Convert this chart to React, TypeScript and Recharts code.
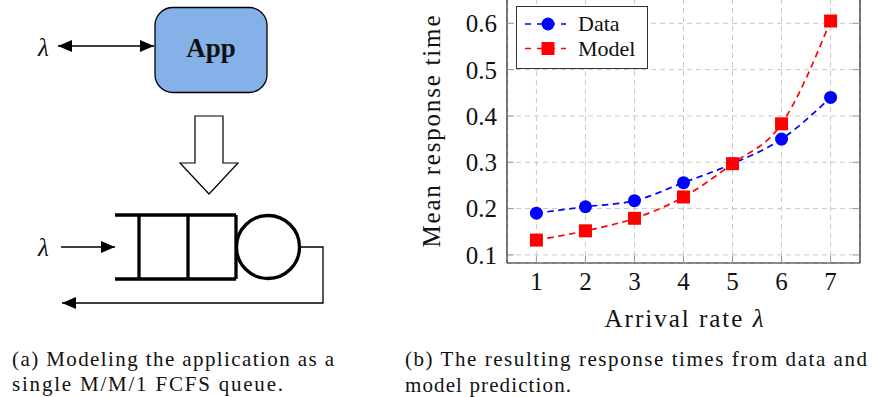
import { LineChart, Line, XAxis, YAxis, CartesianGrid, Legend } from "recharts";

const arrivalRates = [1, 2, 3, 4, 5, 6, 7];
const dataTimes = [0.19, 0.204, 0.217, 0.256, 0.297, 0.35, 0.44];
const modelTimes = [0.132, 0.152, 0.179, 0.225, 0.297, 0.383, 0.605];
const yTicks = [0.1, 0.2, 0.3, 0.4, 0.5, 0.6];

const rows = arrivalRates.map((rate, i) => ({
  rate,
  data: dataTimes[i],
  model: modelTimes[i],
}));

const SERIF = "'Liberation Serif', 'DejaVu Serif', serif";
const BLUE = "#0000ff";
const RED = "#ff0000";

const CircleDot = (props: any) => {
  const { cx, cy } = props;
  if (cx == null || cy == null) return null;
  return <circle cx={cx} cy={cy} r={6.5} fill={BLUE} />;
};

const SquareDot = (props: any) => {
  const { cx, cy } = props;
  if (cx == null || cy == null) return null;
  return <rect x={cx - 6.5} y={cy - 6.5} width={13} height={13} fill={RED} />;
};

const LegendBox = () => {
  const items = [
    { name: "Data", color: BLUE, shape: "circle" },
    { name: "Model", color: RED, shape: "square" },
  ];
  return (
    <svg width={132} height={63} style={{ display: "block" }}>
      <rect x={0.5} y={0.5} width={131} height={62} fill="#fff" stroke="#333" strokeWidth={1} />
      {items.map((it, i) => {
        const y = 18 + i * 24.5;
        return (
          <g key={it.name}>
            <line x1={9} x2={50} y1={y} y2={y} stroke={it.color} strokeWidth={1.7} strokeDasharray="6 6" />
            {it.shape === "circle" ? (
              <circle cx={32} cy={y} r={6.5} fill={it.color} />
            ) : (
              <rect x={25.5} y={y - 6.5} width={13} height={13} fill={it.color} />
            )}
            <text x={62} y={y + 7} fontFamily={SERIF} fontSize={22} fill="#111">
              {it.name}
            </text>
          </g>
        );
      })}
    </svg>
  );
};

const Diagram = () => (
  <svg width={370} height={397} style={{ position: "absolute", left: 0, top: 0 }}>
    <defs>
      <marker id="ah" viewBox="0 0 14 12" refX={14} refY={6} markerWidth={14} markerHeight={12} markerUnits="userSpaceOnUse" orient="auto-start-reverse">
        <path d="M0,0 L14,6 L0,12 Z" fill="#000" />
      </marker>
    </defs>
    {/* top: lambda <-> App */}
    <text x={38} y={56} fontFamily={SERIF} fontStyle="italic" fontSize={25} fill="#111">λ</text>
    <line x1={58} y1={46} x2={154} y2={46} stroke="#000" strokeWidth={1.3} markerStart="url(#ah)" markerEnd="url(#ah)" />
    <rect x={155} y={7.5} width={112} height={85} rx={18} fill="#85b1e9" stroke="#000" strokeWidth={1.3} />
    <text x={211} y={57} textAnchor="middle" fontFamily={SERIF} fontWeight="bold" fontSize={27} fill="#111">App</text>
    {/* hollow arrow */}
    <polygon points="195,116 223,116 223,163 238,163 209,194 180,163 195,163" fill="#fff" stroke="#000" strokeWidth={1.2} />
    {/* queue */}
    <text x={38} y={256} fontFamily={SERIF} fontStyle="italic" fontSize={25} fill="#111">λ</text>
    <line x1={61} y1={247} x2={115} y2={247} stroke="#000" strokeWidth={1.3} markerEnd="url(#ah)" />
    <path d="M115,215 H236 M115,279 H236 M139,215 V279 M188,215 V279 M236,215 V279" stroke="#000" strokeWidth={3.3} fill="none" />
    <circle cx={268} cy={247} r={31.5} fill="none" stroke="#000" strokeWidth={3.3} />
    <polyline points="300,247 323,247 323,303 62,303" fill="none" stroke="#000" strokeWidth={1.3} markerEnd="url(#ah)" />
    {/* caption */}
    <text fontFamily={SERIF} fontSize={21} fill="#111">
      <tspan x={12} y={366} textLength={322} lengthAdjust="spacing">(a) Modeling the application as a</tspan>
      <tspan x={12} y={391} textLength={271} lengthAdjust="spacing">single M/M/1 FCFS queue.</tspan>
    </text>
  </svg>
);

const YTitle = () => (
  <text
    transform="translate(60,132.5) rotate(-90)"
    textAnchor="middle"
    fontFamily={SERIF}
    fontSize={25}
    fill="#111"
    textLength={232}
    lengthAdjust="spacing"
  >
    Mean response time
  </text>
);

const XTitle = () => (
  <text x={304} y={328} textAnchor="middle" fontFamily={SERIF} fontSize={25} fill="#111" textLength={159} lengthAdjust="spacing">
    Arrival rate <tspan fontStyle="italic">λ</tspan>
  </text>
);

export default function App() {
  return (
    <div style={{ position: "absolute", left: 0, top: 0, width: 873, height: 397, background: "#fff", overflow: "hidden" }}>
      <Diagram />
      <div style={{ position: "absolute", left: 380, top: -1 }}>
        <LineChart width={493} height={398} data={rows} margin={{ top: 0, right: 12, bottom: 94, left: 67 }}>
          <CartesianGrid stroke="#c8c8c8" strokeDasharray="5 4" vertical horizontal />
          <XAxis
            dataKey="rate"
            type="number"
            domain={[0.4, 7.6]}
            ticks={arrivalRates}
            height={40}
            axisLine={{ stroke: "#222", strokeWidth: 1.2 }}
            tickLine={{ stroke: "#999" }}
            tickSize={-7}
            tickMargin={16}
            tick={{ fontFamily: SERIF, fontSize: 25, fill: "#111" }}
            label={<XTitle />}
            allowDataOverflow
          />
          <YAxis
            type="number"
            domain={[0.0825, 0.6525]}
            ticks={yTicks}
            width={60}
            axisLine={{ stroke: "#222", strokeWidth: 1.2 }}
            tickLine={{ stroke: "#999" }}
            tickSize={-7}
            tickMargin={17}
            tick={{ fontFamily: SERIF, fontSize: 25, fill: "#111" }}
            label={<YTitle />}
            allowDataOverflow
          />
          <YAxis
            yAxisId="right"
            orientation="right"
            type="number"
            domain={[0.0825, 0.6525]}
            ticks={yTicks}
            width={1}
            axisLine={{ stroke: "#222", strokeWidth: 1.2 }}
            tickLine={{ stroke: "#999" }}
            tickSize={-7}
            tick={() => <g />}
            allowDataOverflow
          />
          <Legend
            layout="horizontal"
            verticalAlign="middle"
            align="center"
            wrapperStyle={{ position: "absolute", left: 136, top: 6.7, width: 132, height: 63 }}
            content={() => <LegendBox />}
          />
          <Line
            type="monotone"
            dataKey="data"
            name="Data"
            stroke={BLUE}
            strokeWidth={1.7}
            strokeDasharray="6.5 4.5"
            dot={<CircleDot />}
            activeDot={false}
            isAnimationActive={false}
          />
          <Line
            type="monotone"
            dataKey="model"
            name="Model"
            stroke={RED}
            strokeWidth={1.7}
            strokeDasharray="6.5 4.5"
            dot={<SquareDot />}
            activeDot={false}
            isAnimationActive={false}
          />
        </LineChart>
      </div>
      <svg width={468} height={50} style={{ position: "absolute", left: 405, top: 347 }}>
        <text fontFamily={SERIF} fontSize={21} fill="#111">
          <tspan x={0} y={19} textLength={462} lengthAdjust="spacing">(b) The resulting response times from data and</tspan>
          <tspan x={0} y={45} textLength={166} lengthAdjust="spacing">model prediction.</tspan>
        </text>
      </svg>
    </div>
  );
}
